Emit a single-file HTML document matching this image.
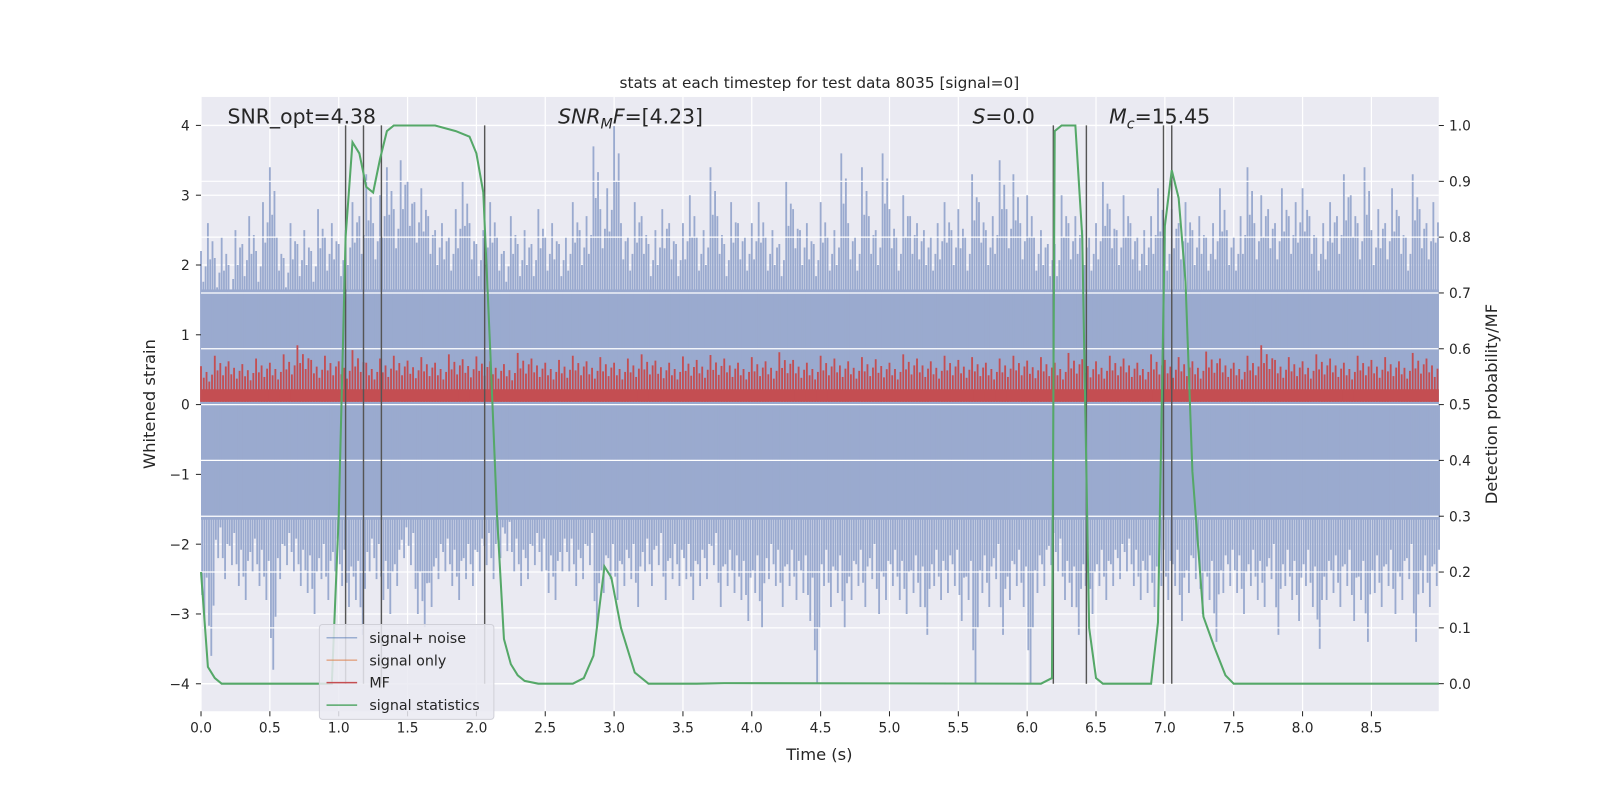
<!DOCTYPE html>
<html><head><meta charset="utf-8">
<style>
html,body{margin:0;padding:0;background:#fff;overflow:hidden;}
svg{display:block;font-family:"DejaVu Sans","Liberation Sans",sans-serif;}
</style></head>
<body>
<svg id="chart" width="1600" height="800" viewBox="0 0 1600 800" xmlns="http://www.w3.org/2000/svg">
<g transform="scale(1.0204)">
<rect x="197" y="95" width="1213" height="602" fill="#eaeaf2"/>
<g id="grid"></g>
<g id="noise"></g>
<g id="rgrid"></g>
<g id="mf"></g>
<g id="vlines"></g>
<g id="stat"></g>
<g id="axes"></g>
<text x="803" y="86" font-size="15" text-anchor="middle" fill="#262626">stats at each timestep for test data 8035 [signal=0]</text>
<text x="803" y="745" font-size="16" text-anchor="middle" fill="#262626">Time (s)</text>
<text transform="translate(152,396) rotate(-90)" font-size="16" text-anchor="middle" fill="#262626">Whitened strain</text>
<text transform="translate(1467,396) rotate(-90)" font-size="16" text-anchor="middle" fill="#262626">Detection probability/MF</text>
<text x="223" y="121" font-size="20" fill="#262626">SNR_opt=4.38</text>
<text x="547" y="121" font-size="20" fill="#262626"><tspan font-style="italic">SNR</tspan><tspan font-style="italic" font-size="14" dy="5">M</tspan><tspan font-style="italic" dy="-5">F</tspan>=[4.23]</text>
<text x="953" y="121" font-size="20" fill="#262626"><tspan font-style="italic">S</tspan>=0.0</text>
<text x="1087" y="121" font-size="20" fill="#262626"><tspan font-style="italic">M</tspan><tspan font-style="italic" font-size="14" dy="5">c</tspan><tspan dy="-5">=15.45</tspan></text>
<g>
<rect x="313" y="612" width="171" height="93" rx="3" fill="#eaeaf2" fill-opacity="0.85" stroke="#d0d0d8"/>
<line x1="320" y1="625" x2="350" y2="625" stroke="#4c72b0" stroke-opacity="0.5" stroke-width="1.5"/>
<text x="362" y="630" font-size="14" fill="#262626">signal+ noise</text>
<line x1="320" y1="647" x2="350" y2="647" stroke="#dd8452" stroke-opacity="0.6" stroke-width="1.5"/>
<text x="362" y="652" font-size="14" fill="#262626">signal only</text>
<line x1="320" y1="669" x2="350" y2="669" stroke="#c44e52" stroke-width="1.5"/>
<text x="362" y="674" font-size="14" fill="#262626">MF</text>
<line x1="320" y1="691" x2="350" y2="691" stroke="#55a868" stroke-width="1.5"/>
<text x="362" y="696" font-size="14" fill="#262626">signal statistics</text>
</g>
</g>
</svg>
<script>
const xTicks=[0,0.5,1,1.5,2,2.5,3,3.5,4,4.5,5,5.5,6,6.5,7,7.5,8,8.5];
const yTicks=[-4,-3,-2,-1,0,1,2,3,4];
const rTicks=[0,0.1,0.2,0.3,0.4,0.5,0.6,0.7,0.8,0.9,1.0];
const noiseUp=[2.2,2.6,2.1,2.4,2.0,2.5,2.3,2.7,2.2,2.9,3.4,2.4,2.1,2.6,2.3,2.5,2.2,2.8,2.4,2.6,
2.3,2.5,2.9,2.7,3.3,2.6,3.0,3.4,2.8,3.5,3.2,2.9,3.1,2.7,2.5,2.6,2.4,2.8,3.2,2.6,
2.3,2.5,2.9,2.4,2.2,2.7,2.3,2.5,2.3,2.8,2.4,2.6,2.3,2.4,2.9,2.5,2.7,3.7,2.8,3.1,
4.0,2.6,2.4,2.9,2.7,2.3,2.5,2.8,2.6,2.3,2.6,3.0,2.4,2.5,3.4,2.7,2.3,2.9,2.6,2.4,
2.6,2.9,2.4,2.5,2.3,3.2,2.8,2.5,2.6,2.3,2.9,2.4,2.5,3.6,2.6,2.4,3.4,2.7,2.5,3.6,
2.8,2.4,3.0,2.7,2.6,2.5,2.4,2.6,2.9,2.5,2.8,2.4,3.3,2.9,2.5,2.7,3.5,2.8,3.3,2.6,
3.0,2.4,2.5,2.3,2.3,3.0,2.6,2.7,2.5,2.4,2.6,3.2,2.8,2.5,3.0,2.6,2.4,2.5,2.7,3.1,
2.4,2.8,2.6,2.9,2.5,2.7,2.4,2.6,3.1,2.5,2.4,2.7,3.4,2.6,3.0,2.8,2.6,3.1,2.7,2.9,
3.1,2.7,2.4,2.6,2.9,2.7,3.3,3.0,2.6,3.4,2.5,2.8,2.6,3.1,2.7,2.4,3.3,2.8,2.6,2.9];
const noiseDn=[-3.1,-3.6,-2.2,-2.5,-2.3,-2.6,-2.8,-2.4,-2.6,-2.8,-3.8,-2.5,-2.3,-2.4,-2.6,-2.7,-3.0,-2.5,-2.8,-2.4,
-2.6,-2.9,-2.8,-3.3,-2.4,-2.5,-2.8,-3.0,-2.6,-2.2,-2.3,-3.0,-3.2,-2.9,-2.5,-2.4,-2.6,-2.8,-2.5,-2.6,
-2.4,-2.3,-2.5,-2.2,-2.1,-2.4,-2.6,-2.5,-2.3,-2.4,-2.7,-2.8,-2.4,-2.4,-2.6,-2.5,-2.3,-3.2,-2.7,-2.5,
-2.8,-2.6,-2.5,-2.9,-2.4,-2.6,-2.3,-2.8,-2.5,-2.6,-2.5,-2.8,-2.6,-2.5,-2.3,-2.9,-2.6,-2.7,-2.8,-3.1,
-2.7,-3.2,-2.5,-2.6,-2.9,-2.6,-2.8,-2.7,-3.1,-4.0,-2.6,-2.9,-2.7,-3.2,-2.8,-2.6,-2.9,-2.5,-3.0,-2.8,
-2.6,-2.8,-3.0,-2.7,-2.9,-3.3,-2.6,-2.8,-2.7,-2.6,-3.1,-2.8,-4.0,-2.7,-2.9,-2.5,-3.3,-2.8,-2.6,-2.9,
-4.0,-2.7,-2.6,-2.3,-2.4,-2.8,-2.9,-3.3,-2.6,-3.0,-2.6,-2.8,-2.6,-2.5,-2.4,-2.6,-2.8,-2.7,-2.9,-2.6,
-2.8,-2.6,-3.1,-2.7,-2.5,-3.0,-2.8,-3.4,-2.7,-2.6,-2.7,-3.0,-2.6,-2.8,-2.9,-2.5,-3.3,-2.6,-2.8,-3.1,
-2.6,-2.9,-3.5,-2.8,-2.7,-2.9,-2.6,-3.1,-2.8,-3.4,-2.7,-2.9,-2.6,-3.0,-2.8,-2.5,-3.4,-2.7,-2.9,-2.6];
const mfPeaks=[0.55,0.7,0.62,0.58,0.66,0.6,0.72,0.85,0.64,0.7,0.62,0.78,0.6,0.66,0.7,0.63,0.68,0.6,0.72,0.65,
0.69,0.62,0.58,0.74,0.66,0.6,0.64,0.7,0.62,0.68,0.6,0.66,0.72,0.63,0.6,0.69,0.64,0.71,0.66,0.6,
0.68,0.62,0.75,0.64,0.6,0.7,0.66,0.62,0.68,0.65,0.6,0.72,0.66,0.62,0.7,0.64,0.68,0.6,0.66,0.7,
0.63,0.68,0.6,0.74,0.65,0.62,0.7,0.66,0.6,0.72,0.64,0.68,0.62,0.76,0.66,0.6,0.7,0.85,0.64,0.68,
0.62,0.72,0.66,0.6,0.7,0.64,0.68,0.62,0.74,0.66];
const statT=[0,0.05,0.1,0.15,0.25,0.95,1.0,1.05,1.1,1.15,1.2,1.25,1.3,1.35,1.4,1.5,1.7,1.85,1.95,2.0,2.05,2.1,2.15,2.2,2.25,2.3,2.35,2.45,2.7,2.78,2.85,2.93,2.98,3.05,3.15,3.25,3.6,3.8,6.1,6.18,6.2,6.25,6.3,6.35,6.4,6.45,6.5,6.55,6.85,6.9,6.95,7.0,7.05,7.1,7.15,7.2,7.28,7.36,7.44,7.5,8.99];
const statV=[0.2,0.03,0.01,0.0,0.0,0.0,0.3,0.8,0.97,0.95,0.89,0.88,0.94,0.99,1.0,1.0,1.0,0.99,0.98,0.95,0.88,0.6,0.3,0.08,0.035,0.015,0.005,0.0,0.0,0.01,0.05,0.21,0.19,0.1,0.02,0.0,0.0,0.001,0.0,0.01,0.99,1.0,1.0,1.0,0.8,0.1,0.01,0.0,0.0,0.0,0.11,0.82,0.92,0.87,0.72,0.38,0.12,0.065,0.015,0.0,0.0];
const markerT=[1.05,1.18,1.31,2.06,6.19,6.43,6.99,7.05];
const NS='http://www.w3.org/2000/svg';
const X=t=>197+t*134.94, Y=v=>396.5-v*68.4, R=p=>670-p*547;
function mk(tag,attrs,parent){const e=document.createElementNS(NS,tag);for(const k in attrs)e.setAttribute(k,attrs[k]);parent.appendChild(e);return e;}
const grid=document.getElementById('grid'),rgrid=document.getElementById('rgrid'),axes=document.getElementById('axes');
xTicks.forEach(t=>{
 const l=mk('line',{x1:X(t),x2:X(t),y1:95,y2:697,stroke:'#fff','stroke-width':1.2},grid);
 
 const tk=mk('line',{x1:X(t),x2:X(t),y1:697,y2:702,stroke:'#262626'},axes);
 
 const tx=mk('text',{x:X(t),y:718,'font-size':13.5,'text-anchor':'middle',fill:'#262626'},axes);
 
 tx.textContent=t.toFixed(1);
});
yTicks.forEach(v=>{
 const l=mk('line',{x1:197,x2:1410,y1:Y(v),y2:Y(v),stroke:'#fff','stroke-width':1.2},grid);
 
 const tk=mk('line',{x1:192,x2:197,y1:Y(v),y2:Y(v),stroke:'#262626'},axes);
 
 const tx=mk('text',{x:186,y:Y(v)+5,'font-size':13.5,'text-anchor':'end',fill:'#262626'},axes);
 
 tx.textContent=(v<0?'\u2212'+(-v):String(v));
});
rTicks.forEach(p=>{
 const l=mk('line',{x1:197,x2:1410,y1:R(p),y2:R(p),stroke:'#fff','stroke-width':1.2},rgrid);
 
 const tk=mk('line',{x1:1410,x2:1415,y1:R(p),y2:R(p),stroke:'#262626'},axes);
 
 const tx=mk('text',{x:1420,y:R(p)+5,'font-size':13.5,fill:'#262626'},axes);
 
 tx.textContent=p.toFixed(1);
});
const noise=document.getElementById('noise');
const band=mk('rect',{x:X(0),y:Y(1.65),width:X(8.99)-X(0),height:Y(-1.65)-Y(1.65),fill:'#9aaacf'},noise);

const stepN=0.05;
noiseUp.forEach((v,i)=>{
 for(let k=0;k<3;k++){
  const t=i*stepN+k*stepN/3, f=[1,0.8,0.9][k];
  const l=mk('line',{x1:X(t),x2:X(t),y1:Y(0),y2:Y(v*f),stroke:'#9aaacf','stroke-width':1.8},noise);
  
 }
});
noiseDn.forEach((v,i)=>{
 for(let k=0;k<3;k++){
  const t=i*stepN+k*stepN/3+0.008, f=[0.88,1,0.8][k];
  const l=mk('line',{x1:X(t),x2:X(t),y1:Y(0),y2:Y(v*f),stroke:'#9aaacf','stroke-width':1.8},noise);
  
 }
});
const mf=document.getElementById('mf');
const mband=mk('rect',{x:X(0),y:Y(0.22),width:X(8.99)-X(0),height:Y(0.04)-Y(0.22),fill:'#c44e52'},mf);

const stepM=0.1;
mfPeaks.forEach((v,i)=>{
 for(let k=0;k<5;k++){
  const t=i*stepM+k*stepM/5, f=[1,0.7,0.85,0.6,0.78][k];
  const l=mk('line',{x1:X(t),x2:X(t),y1:Y(0.04),y2:Y(v*f),stroke:'#c44e52','stroke-width':1.8},mf);
  
 }
});
const vl=document.getElementById('vlines');
markerT.forEach(t=>{
 const l=mk('line',{x1:X(t),x2:X(t),y1:Y(4),y2:Y(-4),stroke:'#555','stroke-width':1.4},vl);
 
});
const st=document.getElementById('stat');
const p=mk('polyline',{points:statT.map((t,i)=>X(t)+','+R(statV[i])).join(' '),fill:'none',stroke:'#55a868','stroke-width':2},st);

</script>
</body></html>
